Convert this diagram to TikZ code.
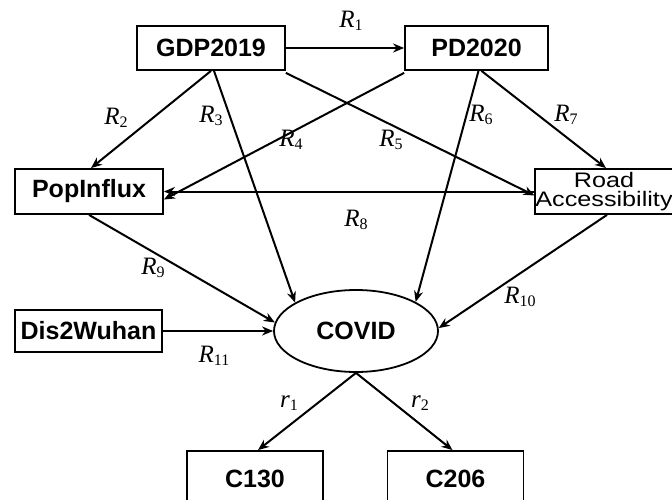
\documentclass[tikz,border=0pt]{standalone}
\usepackage{fontspec}
\setmainfont{Liberation Sans}
\newfontfamily\labfont{Liberation Serif}
\newfontfamily\widefont[FakeStretch=1.2]{Liberation Sans}
\usetikzlibrary{arrows.meta,shapes.geometric}
\newcommand\lbl[2]{{\labfont\fontsize{25}{25}\selectfont\itshape #1\/}{\labfont\fontsize{16}{16}\selectfont\raisebox{-0.45ex}{#2}}}
\begin{document}
\begin{tikzpicture}[x=1pt,y=-1pt,
  box/.style={draw, line width=1.8pt, inner sep=0pt, align=center, font=\fontsize{25}{24}\selectfont\bfseries},
  conn/.style={line width=2pt, -{Stealth[length=11pt,width=9pt]}},
  lab/.style={inner sep=0pt}]
\useasboundingbox (0,0) rectangle (672,500);
\clip (0,0) rectangle (672,500);
\node[box, minimum width=148pt, minimum height=44pt] (gdp) at (211,48) {GDP2019};
\node[box, minimum width=143pt, minimum height=44pt] (pd) at (476.5,48) {PD2020};
\node[box, minimum width=148pt, minimum height=45pt] (pop) at (89,191.5) {PopInflux};
\node[box, minimum width=134pt, minimum height=45pt, font=\widefont\fontsize{21}{19.5}\selectfont] (road) at (604,191.5) {Road\\Accessibility};
\node[box, minimum width=147pt, minimum height=42pt] (dis) at (88.5,331) {Dis2Wuhan};
\node[box, ellipse, minimum width=164pt, minimum height=82pt] (covid) at (356,331) {COVID};
\node[box, minimum width=136pt, minimum height=56pt] (c130) at (255,479) {C130};
\node[box, minimum width=136pt, minimum height=56pt] (c206) at (455.5,479) {C206};
\draw[conn] (gdp.east) -- (pd.west);
\draw[conn] (gdp.south) -- ([xshift=2pt]pop.north);
\draw[conn] ([xshift=3pt]gdp.south) -- (covid.155);
\draw[conn] ([yshift=-2pt]pd.south west) -- ([yshift=-8pt]pop.east);
\draw[conn] ([yshift=-2pt]gdp.south east) -- ([yshift=-4pt]road.west);
\draw[conn] ([xshift=2pt]pd.south) -- (covid.26);
\draw[conn] ([xshift=5pt]pd.south) -- ([xshift=2pt]road.north);
\draw[conn] (road.west) -- (pop.east);
\draw[conn] (pop.south) -- (covid.174);
\draw[conn] ([xshift=3pt]road.south) -- (covid.2);
\draw[conn] (dis.east) -- (covid.west);
\draw[conn] (covid.south) -- ([xshift=3pt]c130.north);
\draw[conn] (covid.south) -- ([xshift=-3pt]c206.north);
\node[lab] (l1) at (351,21) {\lbl{R}{1}};
\node[lab] (l2) at (116,118) {\lbl{R}{2}};
\node[lab] (l3) at (211,116) {\lbl{R}{3}};
\node[lab] (l4) at (291,140) {\lbl{R}{4}};
\node[lab] (l5) at (391,140) {\lbl{R}{5}};
\node[lab] (l6) at (481,115) {\lbl{R}{6}};
\node[lab] (l7) at (566,115) {\lbl{R}{7}};
\node[lab] (l8) at (356,220) {\lbl{R}{8}};
\node[lab] (l9) at (153,268) {\lbl{R}{9}};
\node[lab] (l10) at (520,297) {\lbl{R}{10}};
\node[lab] (l11) at (214,356) {\lbl{R}{11}};
\node[lab] (r1) at (289,403) {\lbl{r}{1}};
\node[lab] (r2) at (420,403) {\lbl{r}{2}};
\end{tikzpicture}
\end{document}
